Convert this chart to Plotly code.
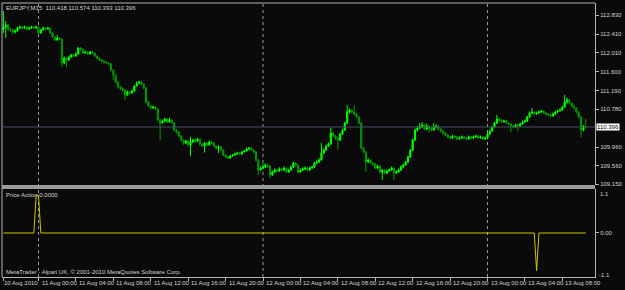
import plotly.graph_objects as go

# ---- data (EURJPY M15, one value per candle, from 10 Aug 20:15) ----
first_open = 112.526
closes = [
 112.569,112.613,112.526,112.504,112.460,112.482,112.547,112.569,112.547,112.569,
 112.526,112.547,112.569,112.547,112.569,112.439,112.504,112.547,112.526,112.547,
 112.439,112.352,112.287,112.330,112.308,111.787,111.895,111.852,111.917,111.961,
 111.939,111.982,112.113,112.091,112.004,112.026,111.982,112.026,112.004,111.939,
 111.895,111.852,111.830,111.808,111.787,111.765,111.634,111.526,111.374,111.265,
 111.243,111.200,111.091,111.156,111.135,111.178,111.287,111.352,111.374,111.330,
 111.243,110.939,110.852,110.809,110.830,110.787,110.548,110.482,110.526,110.569,
 110.504,110.548,110.482,110.330,110.287,110.200,110.113,110.048,110.091,110.004,
 110.069,110.113,110.091,110.135,110.026,109.982,110.048,110.004,110.069,110.048,
 109.982,109.939,109.961,109.895,109.787,109.743,109.721,109.765,109.787,109.809,
 109.830,109.809,109.852,109.874,109.917,109.939,109.895,109.852,109.678,109.461,
 109.504,109.526,109.569,109.548,109.352,109.417,109.461,109.439,109.483,109.461,
 109.504,109.417,109.461,109.526,109.613,109.569,109.417,109.461,109.483,109.504,
 109.461,109.504,109.526,109.613,109.635,109.678,109.830,109.895,109.982,110.026,
 110.265,110.200,110.156,110.113,110.243,110.330,110.482,110.721,110.765,110.721,
 110.678,110.613,110.482,109.939,109.852,109.635,109.678,109.613,109.591,109.504,
 109.548,109.417,109.461,109.396,109.439,109.461,109.504,109.396,109.417,109.461,
 109.526,109.569,109.635,109.743,109.895,110.113,110.330,110.374,110.396,110.439,
 110.352,110.418,110.374,110.330,110.396,110.418,110.352,110.309,110.265,110.222,
 110.178,110.156,110.200,110.178,110.135,110.156,110.178,110.156,110.135,110.178,
 110.156,110.178,110.200,110.156,110.178,110.135,110.156,110.243,110.309,110.396,
 110.482,110.569,110.548,110.504,110.526,110.482,110.461,110.418,110.396,110.439,
 110.418,110.461,110.504,110.526,110.613,110.700,110.721,110.678,110.700,110.721,
 110.743,110.700,110.678,110.656,110.635,110.678,110.721,110.743,110.765,110.830,
 110.939,110.982,110.917,110.852,110.809,110.721,110.613,110.330,110.418,110.396,
]
highs = [
 112.917,112.700,112.640,112.560,112.530,112.520,112.580,112.600,112.590,112.600,
 112.590,112.575,112.595,112.590,112.600,112.585,112.530,112.580,112.570,112.575,
 112.560,112.455,112.370,112.400,112.350,112.320,111.930,111.910,111.950,111.990,
 111.980,112.020,112.134,112.130,112.100,112.060,112.040,112.050,112.045,112.015,
 111.950,111.910,111.870,111.850,111.830,111.800,111.780,111.650,111.540,111.390,
 111.290,111.260,111.220,111.190,111.180,111.210,111.310,111.390,111.400,111.390,
 111.350,111.260,110.970,110.880,110.860,110.850,110.800,110.570,110.560,110.600,
 110.590,110.600,110.570,110.500,110.350,110.310,110.220,110.130,110.120,110.110,
 110.180,110.140,110.150,110.160,110.150,110.040,110.070,110.070,110.100,110.090,
 110.060,110.000,110.000,109.980,109.910,109.800,109.770,109.790,109.810,109.840,
 109.860,109.850,109.880,109.900,109.950,109.960,109.950,109.910,109.870,109.700,
 109.540,109.600,109.610,109.600,109.570,109.450,109.500,109.480,109.520,109.500,
 109.540,109.520,109.490,109.560,109.640,109.630,109.580,109.500,109.520,109.540,
 109.520,109.540,109.560,109.640,109.680,109.720,110.048,109.930,110.010,110.060,
 110.374,110.290,110.220,110.180,110.270,110.360,110.510,110.874,110.800,110.780,
 110.870,110.700,110.630,110.500,109.960,109.870,109.720,109.690,109.630,109.610,
 109.580,109.560,109.490,109.480,109.470,109.490,109.540,109.520,109.450,109.500,
 109.560,109.600,109.660,109.770,109.920,110.140,110.360,110.420,110.480,110.500,
 110.460,110.470,110.440,110.400,110.480,110.450,110.440,110.370,110.330,110.290,
 110.240,110.200,110.230,110.220,110.200,110.190,110.210,110.200,110.180,110.210,
 110.200,110.210,110.230,110.220,110.210,110.200,110.180,110.270,110.340,110.420,
 110.510,110.656,110.600,110.570,110.560,110.550,110.500,110.480,110.440,110.470,
 110.460,110.490,110.540,110.560,110.640,110.730,110.809,110.740,110.730,110.750,
 110.770,110.760,110.720,110.700,110.680,110.710,110.750,110.770,110.800,110.860,
 111.091,111.040,111.000,110.930,110.870,110.830,110.740,110.630,110.440,110.574,
]
lows = [
 112.439,112.330,112.480,112.460,112.410,112.430,112.470,112.520,112.510,112.530,
 112.500,112.505,112.530,112.525,112.530,112.410,112.420,112.490,112.500,112.510,
 112.420,112.330,112.260,112.270,112.280,111.700,111.760,111.690,111.830,111.900,
 111.910,111.920,111.960,112.050,111.980,111.990,111.960,111.970,111.980,111.920,
 111.870,111.830,111.800,111.780,111.760,111.740,111.600,111.417,111.340,111.230,
 111.200,111.160,110.982,111.070,111.100,111.120,111.160,111.270,111.330,111.300,
 111.220,110.900,110.830,110.780,110.790,110.760,110.520,110.113,110.460,110.500,
 110.480,110.490,110.460,110.300,110.250,110.170,110.080,110.010,110.020,109.960,
 109.760,110.040,110.060,110.070,109.990,109.960,109.840,109.980,109.990,110.020,
 109.960,109.910,109.830,109.870,109.760,109.720,109.700,109.700,109.750,109.770,
 109.790,109.780,109.790,109.840,109.860,109.890,109.870,109.820,109.650,109.352,
 109.440,109.480,109.500,109.510,109.287,109.330,109.400,109.410,109.420,109.430,
 109.440,109.390,109.400,109.440,109.500,109.540,109.380,109.400,109.440,109.460,
 109.430,109.440,109.480,109.500,109.590,109.610,109.660,109.800,109.870,109.960,
 110.000,110.170,110.120,109.900,110.090,110.220,110.310,110.460,110.690,110.690,
 110.650,110.590,110.450,109.910,109.820,109.417,109.610,109.590,109.560,109.480,
 109.480,109.390,109.243,109.370,109.370,109.420,109.440,109.243,109.370,109.400,
 109.440,109.500,109.550,109.610,109.720,109.870,110.090,110.300,110.350,110.370,
 110.320,110.330,110.280,110.300,110.310,110.370,110.320,110.280,110.240,110.200,
 110.150,110.130,110.140,110.150,110.110,110.120,110.140,110.130,110.110,110.120,
 110.130,110.140,110.160,110.130,110.140,110.110,110.120,110.130,110.220,110.290,
 110.370,110.460,110.520,110.480,110.490,110.460,110.430,110.280,110.370,110.380,
 110.300,110.400,110.440,110.490,110.500,110.590,110.680,110.650,110.660,110.680,
 110.700,110.680,110.650,110.630,110.610,110.620,110.660,110.700,110.730,110.750,
 110.810,110.900,110.890,110.820,110.780,110.690,110.580,110.178,110.300,110.393,
]
opens = [first_open] + closes[:-1]
candle_idx = list(range(len(closes)))

# Price Action indicator values (0 except signal bars)
pa_signal_idx = [14, 15, 228]
pa_signal_val = [1, 1, -1]
price_action = [0.0] * len(closes)
for k, v in zip(pa_signal_idx, pa_signal_val):
    price_action[k] = v

# time axis labels (candle index -> label)
time_tick_idx = [0, 15, 31, 47, 63, 79, 95, 111, 127, 143, 159, 175, 191, 207, 223, 239]
time_tick_txt = ["10 Aug 2010", "11 Aug 00:00", "11 Aug 04:00", "11 Aug 08:00", "11 Aug 12:00",
                 "11 Aug 16:00", "11 Aug 20:00", "12 Aug 00:00", "12 Aug 04:00", "12 Aug 08:00",
                 "12 Aug 12:00", "12 Aug 16:00", "12 Aug 20:00", "13 Aug 00:00", "13 Aug 04:00",
                 "13 Aug 08:00"]
day_sep_idx = [15, 111, 207]
price_ticks = [112.830, 112.410, 112.010, 111.600, 111.190, 110.780, 109.960, 109.560, 109.150]
bid_price = 110.396
header = "EURJPY,M15  110.418 110.574 110.393 110.396"

# ---- styling ----
BG = "#0a0a0a"
TXT = "#d2d2d2"
FRAME = "#b4b4b4"
FONT = "Liberation Sans"
FS = 6

fig = go.Figure()
fig.add_trace(go.Candlestick(
    x=candle_idx, open=opens, high=highs, low=lows, close=closes,
    increasing=dict(line=dict(color="#00ff00", width=1), fillcolor="#00ff00"),
    decreasing=dict(line=dict(color="#009c00", width=1), fillcolor="#007800"),
    whiskerwidth=0, xaxis="x", yaxis="y", hoverinfo="skip", showlegend=False))
fig.add_trace(go.Scatter(
    x=candle_idx, y=price_action, mode="lines",
    line=dict(color="#c8c800", width=1), xaxis="x", yaxis="y2",
    hoverinfo="skip", showlegend=False))

main_dom = [0.3358, 1.0]
low_dom = [0.0, 0.3212]

fig.update_layout(
    width=625, height=290,
    margin=dict(l=2, r=22, t=3, b=13),
    paper_bgcolor=BG, plot_bgcolor=BG,
    font=dict(family=FONT, size=FS, color=TXT),
    showlegend=False,
    xaxis=dict(range=[-0.61, 252.97], anchor="y2", showgrid=False, zeroline=False,
               rangeslider=dict(visible=False), tickmode="array", tickvals=time_tick_idx,
               ticks="outside", ticklen=3, tickcolor=FRAME, showticklabels=False,
               showline=True, linecolor=FRAME, linewidth=1),
    yaxis=dict(domain=main_dom, range=[109.135, 113.091], side="right", anchor="x",
               showgrid=False, zeroline=False, tickmode="array", tickvals=price_ticks,
               ticktext=[f"{v:.3f}" for v in price_ticks], ticks="outside", ticklen=3,
               tickcolor=FRAME, tickfont=dict(size=FS, color=TXT, family=FONT),
               showline=True, linecolor=FRAME, linewidth=1),
    yaxis2=dict(domain=low_dom, range=[-1.17, 1.17], side="right", anchor="x",
                showgrid=False, zeroline=False, tickmode="array", tickvals=[0],
                ticktext=["0.00"], ticks="outside", ticklen=3, tickcolor=FRAME,
                tickfont=dict(size=FS, color=TXT, family=FONT),
                showline=True, linecolor=FRAME, linewidth=1),
)

shapes = []
shapes.append(dict(type="line", xref="paper", yref="paper", x0=0, x1=0, y0=0, y1=1,
                   line=dict(color=FRAME, width=1)))
shapes.append(dict(type="line", xref="paper", yref="paper", x0=0, x1=1, y0=1, y1=1,
                   line=dict(color=FRAME, width=1)))
shapes.append(dict(type="rect", xref="paper", yref="paper", x0=0, x1=1,
                   y0=low_dom[1], y1=main_dom[0], fillcolor="#9a9a9a", line=dict(width=0)))
shapes.append(dict(type="line", xref="paper", yref="y", x0=0, x1=1, y0=bid_price, y1=bid_price,
                   line=dict(color="#465064", width=1)))
for d in day_sep_idx:
    shapes.append(dict(type="line", xref="x", yref="paper", x0=d, x1=d, y0=0, y1=1,
                       line=dict(color="#9a9a9a", width=1, dash="dot"), layer="below"))
fig.update_layout(shapes=shapes)

ann = []
for i, t in zip(time_tick_idx, time_tick_txt):
    ann.append(dict(x=i, xref="x", y=0, yref="paper", text=t, showarrow=False,
                    xanchor="left", yanchor="middle", xshift=-1 if i == 0 else 1, yshift=-6,
                    font=dict(size=FS, color=TXT, family=FONT)))
ann.append(dict(x=0, xref="paper", y=1, yref="paper", text=header, showarrow=False,
                xanchor="left", yanchor="top", xshift=2, yshift=0,
                font=dict(size=FS, color=TXT, family=FONT)))
ann.append(dict(x=0, xref="paper", y=low_dom[1], yref="paper", text="Price Action 0.0000",
                showarrow=False, xanchor="left", yanchor="top", xshift=2, yshift=-1,
                font=dict(size=FS, color=TXT, family=FONT)))
ann.append(dict(x=0, xref="paper", y=0, yref="paper",
                text="MetaTrader - Alpari UK, © 2001-2010 MetaQuotes Software Corp.",
                showarrow=False, xanchor="left", yanchor="bottom", xshift=2, yshift=0,
                font=dict(size=FS, color=TXT, family=FONT)))
ann.append(dict(x=1, xref="paper", y=1.1, yref="y2", text="1.1", showarrow=False,
                xanchor="left", yanchor="top", xshift=3, yshift=3,
                font=dict(size=FS, color=TXT, family=FONT)))
ann.append(dict(x=1, xref="paper", y=-1.1, yref="y2", text="-1.1", showarrow=False,
                xanchor="left", yanchor="middle", xshift=2, yshift=-1,
                font=dict(size=FS, color=TXT, family=FONT)))
ann.append(dict(x=1, xref="paper", y=bid_price, yref="y", text=f"{bid_price:.3f}",
                showarrow=False, xanchor="left", yanchor="middle", xshift=1,
                bgcolor="#ffffff", borderpad=0,
                font=dict(size=FS, color="#000000", family=FONT)))
fig.update_layout(annotations=ann)

fig.write_html("out.html")
